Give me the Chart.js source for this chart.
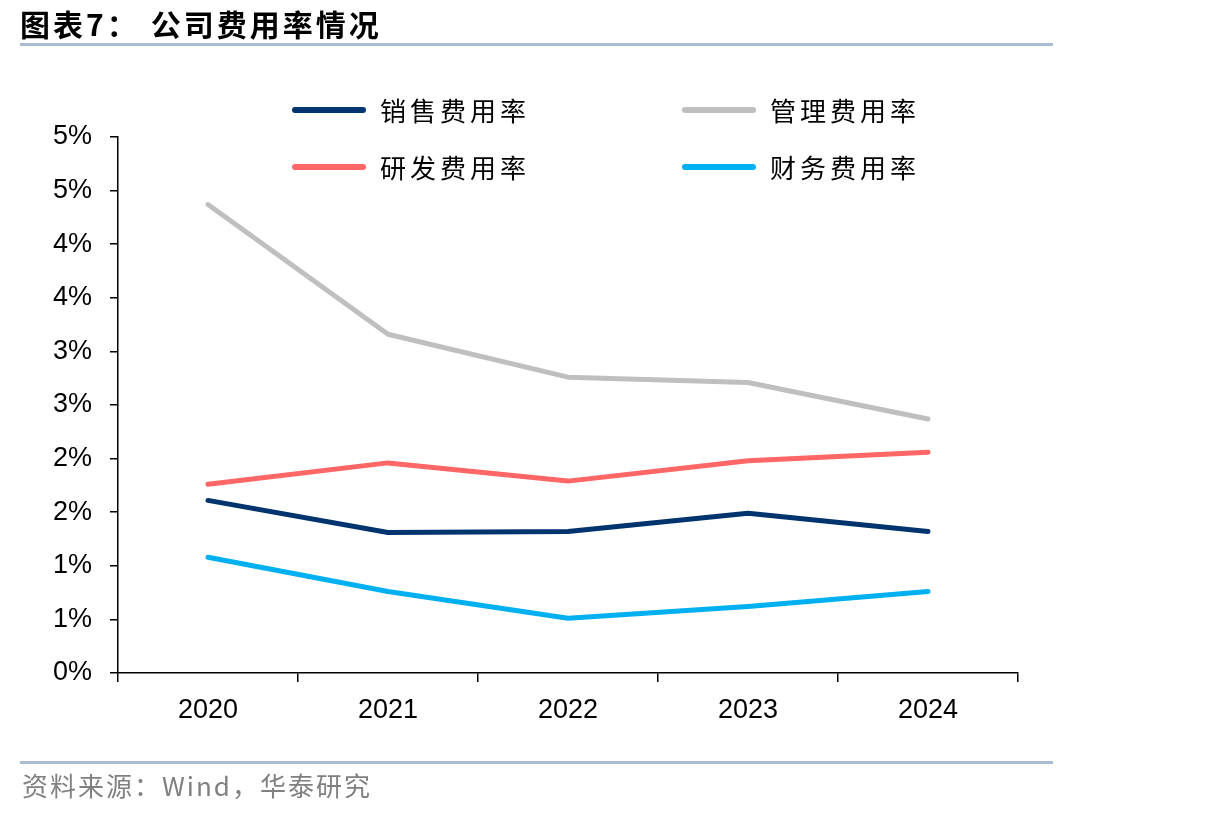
<!DOCTYPE html>
<html>
<head>
<meta charset="utf-8">
<script src="https://cdn.jsdelivr.net/npm/chart.js@4.4.1/dist/chart.umd.min.js"></script>
<style>
  html, body { margin: 0; padding: 0; background: #fff; }
  body { width: 1206px; height: 816px; position: relative; overflow: hidden; font-family: "Noto Sans CJK SC", sans-serif; }
  #title { position: absolute; left: 20px; top: 1px; font-size: 30px; font-weight: 700; letter-spacing: 3px; color: #000; white-space: pre; }
  #title .gap { display: inline-block; width: 11px; }
  .rule { position: absolute; left: 20px; width: 1033px; height: 3px; background: #a9bdd2; }
  #source { position: absolute; left: 22px; top: 766px; font-size: 26px; color: #808080; letter-spacing: 2px; }
  #chartBox { position: absolute; left: 0; top: 0; width: 1206px; height: 816px; }
  .leg { position: absolute; display: flex; align-items: center; font-size: 26px; letter-spacing: 4px; color: #000; }
  .leg span.sw { display: inline-block; width: 74px; height: 6px; border-radius: 3px; margin-right: 14px; }
</style>
</head>
<body>
<div id="chartBox"><canvas id="chart" width="1206" height="816"></canvas></div>
<div id="title">图表7：<span class="gap"></span>公司费用率情况</div>
<div class="rule" style="top:43px"></div>
<div class="rule" style="top:761px"></div>
<div id="source">资料来源：Wind，华泰研究</div>
<div id="legend"></div>
<script>
const years = ["2020", "2021", "2022", "2023", "2024"];
const seriesNames = ["销售费用率", "管理费用率", "研发费用率", "财务费用率"];
const seriesColors = ["#00346f", "#bfbfbf", "#ff6666", "#00b0f0"];
// values in percent
const salesRate = [1.61, 1.31, 1.32, 1.49, 1.32];
const adminRate = [4.37, 3.16, 2.76, 2.71, 2.37];
const rdRate = [1.76, 1.96, 1.79, 1.98, 2.06];
const financeRate = [1.08, 0.76, 0.51, 0.62, 0.76];
const yTicks = [0, 0.5, 1, 1.5, 2, 2.5, 3, 3.5, 4, 4.5, 5];

const seriesValues = [salesRate, adminRate, rdRate, financeRate];

// legend, 2 columns
const legendPos = [[292, 110], [682, 110], [292, 167], [682, 167]];
const legend = document.getElementById("legend");
seriesNames.forEach((name, i) => {
  const item = document.createElement("div");
  item.className = "leg";
  item.style.left = legendPos[i][0] + "px";
  item.style.top = (legendPos[i][1] - 19) + "px";
  item.innerHTML = '<span class="sw" style="background:' + seriesColors[i] + '"></span>' + name;
  legend.appendChild(item);
});

const axisFont = { family: "'Liberation Sans', Arial, sans-serif", size: 27 };

new Chart(document.getElementById("chart").getContext("2d"), {
  type: "line",
  data: {
    labels: years,
    datasets: seriesNames.map((name, i) => ({
      label: name,
      data: seriesValues[i],
      borderColor: seriesColors[i],
      backgroundColor: seriesColors[i],
      borderWidth: 5,
      pointRadius: 0,
      tension: 0,
      borderCapStyle: "round",
      borderJoinStyle: "round",
    })),
  },
  options: {
    responsive: false,
    animation: false,
    layout: { padding: { left: 0, right: 188, top: 137, bottom: 73 } },
    plugins: { legend: { display: false }, tooltip: { enabled: false } },
    scales: {
      x: {
        offset: true,
        grid: { offset: true, drawOnChartArea: false, drawTicks: true, tickLength: 9, color: "#000", lineWidth: 1.5 },
        border: { color: "#000", width: 1.5 },
        ticks: { color: "#000", font: axisFont, padding: 12, maxRotation: 0 },
        afterFit: (s) => { s.height = 70; },
      },
      y: {
        min: 0,
        max: 5,
        afterBuildTicks: (s) => { s.ticks = yTicks.map((v) => ({ value: v })); },
        grid: { drawOnChartArea: false, drawTicks: true, tickLength: 8, color: "#000", lineWidth: 1.5 },
        border: { color: "#000", width: 1.5 },
        ticks: { color: "#000", font: axisFont, padding: 18, callback: (v) => Math.round(v) + "%" },
        afterFit: (s) => { s.width = 118; },
      },
    },
  },
});
</script>
</body>
</html>
